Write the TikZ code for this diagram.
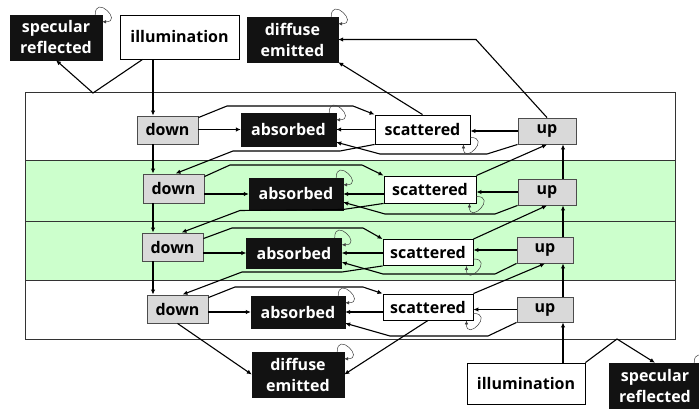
\documentclass[tikz,border=0pt]{standalone}
\usepackage{fontspec}
\setmainfont{Open Sans}
\usetikzlibrary{arrows.meta}
\definecolor{bandgreen}{HTML}{CCFFCC}
\definecolor{boxgray}{HTML}{D9D9D9}
\tikzset{
  every node/.style={font=\fontsize{16}{21}\selectfont\bfseries, inner sep=0pt, align=center},
  blackbox/.style={fill=black!93, text=white, draw=black!93},
  whitebox/.style={fill=white, draw=black, line width=0.9pt},
  graybox/.style={fill=boxgray, draw=black!70, line width=0.9pt},
  conn/.style={draw=black, line width=1.1pt, -{Latex[length=5pt,width=4.5pt]}},
  loopline/.style={draw=black!75, line width=0.5pt, -{Latex[length=4pt,width=3.5pt]}},
  bandline/.style={draw=black!80, line width=1pt},
}
\newcommand\trloop[1]{\draw[loopline] ([xshift=-7pt]#1.north east) .. controls +(0,-21) and +(21,0) .. ([yshift=-7pt]#1.north east);}
\newcommand\brloop[1]{\draw[loopline] ([yshift=7pt]#1.south east) .. controls +(21,0) and +(0,21) .. ([xshift=-7pt]#1.south east);}
\begin{document}
\begin{tikzpicture}[x=1pt,y=-1pt]
\useasboundingbox (0,0) rectangle (699,409);
\clip (0,0) rectangle (699,409);
% bands
\fill[bandgreen] (25,161) rectangle (675,280);
\draw[bandline] (25,93) rectangle (675,339);
\draw[bandline] (25,161) -- (675,161);
\draw[bandline] (25,221) -- (675,221);
\draw[bandline] (25,280) -- (675,280);
\coordinate (vx) at (153,0);
\coordinate (ux) at (563,0);
% outer nodes
\node[blackbox, minimum width=92pt, minimum height=45pt] (specT) at (56,37.5) {specular\\reflected};
\node[whitebox, minimum width=119pt, minimum height=44pt] (illumT) at (179.5,37) {illumination};
\node[blackbox, minimum width=91pt, minimum height=45pt] (diffT) at (292.5,39.5) {diffuse\\emitted};
\node[blackbox, minimum width=92pt, minimum height=45pt] (diffB) at (298,374.5) {diffuse\\emitted};
\node[whitebox, minimum width=118pt, minimum height=41pt] (illumB) at (526,383.5) {illumination};
\node[blackbox, minimum width=92pt, minimum height=45pt] (specB) at (655,385.5) {specular\\reflected};
% band 1
\node[graybox, minimum width=61pt, minimum height=28pt] (down1) at (167.5,130) {down};
\node[blackbox, minimum width=95pt, minimum height=33pt] (abs1) at (288.5,129.5) {absorbed};
\node[whitebox, minimum width=95pt, minimum height=29pt] (sca1) at (422.5,129.5) {scattered};
\node[graybox, minimum width=58pt, minimum height=26pt] (up1) at (547,131) {up};
% band 2
\node[graybox, minimum width=61pt, minimum height=29pt] (down2) at (173.5,188.5) {down};
\node[blackbox, minimum width=94pt, minimum height=32pt] (abs2) at (296,194) {absorbed};
\node[whitebox, minimum width=92pt, minimum height=27pt] (sca2) at (430,189.5) {scattered};
\node[graybox, minimum width=58pt, minimum height=26pt] (up2) at (547,192) {up};
% band 3
\node[graybox, minimum width=61pt, minimum height=28pt] (down3) at (172.5,247) {down};
\node[blackbox, minimum width=95pt, minimum height=30pt] (abs3) at (294,253) {absorbed};
\node[whitebox, minimum width=90pt, minimum height=26pt] (sca3) at (428,252.5) {scattered};
\node[graybox, minimum width=56pt, minimum height=26pt] (up3) at (545,250) {up};
% band 4
\node[graybox, minimum width=61pt, minimum height=28pt] (down4) at (177.5,309) {down};
\node[blackbox, minimum width=94pt, minimum height=32pt] (abs4) at (298,312) {absorbed};
\node[whitebox, minimum width=90pt, minimum height=26pt] (sca4) at (428,307) {scattered};
\node[graybox, minimum width=56pt, minimum height=25pt] (up4) at (545,309.5) {up};
% top connectors
\draw[conn] (illumT.south -| vx) -- (down1.north -| vx);
\draw[conn] ([xshift=23pt]illumT.south west) -- (93,93) -- (specT.south);
\draw[conn] (sca1.north) -- (diffT.south east);
\draw[conn] (up1.north) -- (476,39.5) -- (diffT.east);
% band 1
\draw[conn] (down1.east |- abs1.west) -- (abs1.west);
\draw[conn] (sca1.west |- abs1.east) -- (abs1.east);
\draw[conn] (up1.west) -- (sca1.east |- up1.west);
\draw[conn] ([yshift=-2pt]down1.north east) -- (227,106) -- (353,106) -- (sca1.north west);
\draw[conn] (up1.south west) -- (487,154) -- (380,154) -- ([yshift=4pt]abs1.south east);
\draw[conn] (sca1.south west) -- (340,151) -- (233,151) -- ([xshift=2pt]down2.north);
\draw[conn] (down1.south -| vx) -- (down2.north -| vx);
\draw[conn] (up2.north -| ux) -- (up1.south -| ux);
\draw[conn] (sca2.north east) -- (up1.south);
% band 2
\draw[conn] (down2.east |- abs2.west) -- (abs2.west);
\draw[conn] (sca2.west |- abs2.east) -- (abs2.east);
\draw[conn] (up2.west) -- (sca2.east |- up2.west);
\draw[conn] ([yshift=-3pt]down2.north east) -- (230,165) -- (362,165) -- (sca2.north west);
\draw[conn] (up2.south west) -- (495,214) -- (385,214) -- ([yshift=8pt]abs2.south east);
\draw[conn] (sca2.south west) -- (343,209.5) -- (240,210.5) -- ([xshift=9pt]down3.north);
\draw[conn] (down2.south -| vx) -- (down3.north -| vx);
\draw[conn] (up3.north -| ux) -- (up2.south -| ux);
\draw[conn] (sca3.north east) -- (up2.south);
% band 3
\draw[conn] (down3.east |- abs3.west) -- (abs3.west);
\draw[conn] (sca3.west |- abs3.east) -- (abs3.east);
\draw[conn] (up3.west) -- (sca3.east |- up3.west);
\draw[conn] ([yshift=-6pt]down3.north east) -- (232,228) -- (363,228) -- (sca3.north west);
\draw[conn] (up3.south west) -- (495,274) -- (383,274) -- ([yshift=6pt]abs3.south east);
\draw[conn] (sca3.south west) -- (342,272) -- (242,272) -- ([xshift=5pt]down4.north);
\draw[conn] (down3.south -| vx) -- (down4.north -| vx);
\draw[conn] (up4.north -| ux) -- (up3.south -| ux);
\draw[conn] (sca4.north east) -- (up3.south);
% band 4
\draw[conn] (down4.east |- abs4.west) -- (abs4.west);
\draw[conn] (sca4.west |- abs4.east) -- (abs4.east);
\draw[conn] (up4.west) -- (sca4.east |- up4.west);
\draw[conn] ([yshift=-3pt]down4.north east) -- (235,287) -- (363,287) -- (sca4.north west);
\draw[conn] (up4.south west) -- (488,336) -- (390,336) -- ([yshift=5pt]abs4.south east);
% bottom connectors
\draw[conn] (sca4.south) -- (diffB.east);
\draw[conn] (down4.south) -- (diffB.west);
\draw[conn] (illumB.north -| ux) -- (up4.south -| ux);
\draw[conn] (illumB.north east) -- (617,339) -- (specB.north);
% self loops
\trloop{specT}
\trloop{diffT}
\trloop{diffB}
\trloop{specB}
\trloop{abs1}
\trloop{abs2}
\trloop{abs3}
\trloop{abs4}
\brloop{sca1}
\brloop{sca2}
\brloop{sca3}
\brloop{sca4}
\end{tikzpicture}
\end{document}
